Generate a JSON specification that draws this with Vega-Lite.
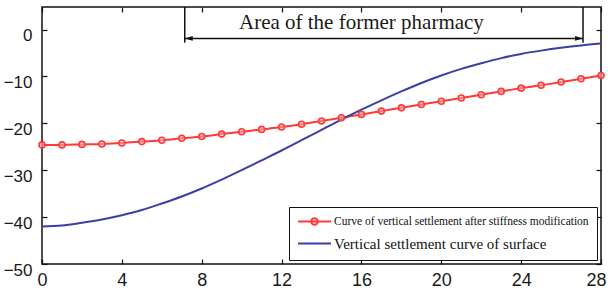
{
  "$schema": "https://vega.github.io/schema/vega-lite/v6.json",
  "width": 559,
  "height": 257,
  "autosize": {"type": "none"},
  "padding": {"left": 42, "top": 7, "right": 7, "bottom": 32},
  "background": "white",
  "config": {
    "view": {"stroke": "#111", "strokeWidth": 1.5},
    "axis": {"grid": false, "domain": false, "tickColor": "#111", "tickWidth": 1.2, "labelColor": "#1a1a1a", "labelFont": "Liberation Sans, Arial, sans-serif", "title": null}
  },
  "datasets": {
    "curves": [
      {"x": 0, "v": -24.6, "series": "Curve of vertical settlement after stiffness modification"},
      {"x": 1, "v": -24.6, "series": "Curve of vertical settlement after stiffness modification"},
      {"x": 2, "v": -24.5, "series": "Curve of vertical settlement after stiffness modification"},
      {"x": 3, "v": -24.4, "series": "Curve of vertical settlement after stiffness modification"},
      {"x": 4, "v": -24.2, "series": "Curve of vertical settlement after stiffness modification"},
      {"x": 5, "v": -23.9, "series": "Curve of vertical settlement after stiffness modification"},
      {"x": 6, "v": -23.6, "series": "Curve of vertical settlement after stiffness modification"},
      {"x": 7, "v": -23.2, "series": "Curve of vertical settlement after stiffness modification"},
      {"x": 8, "v": -22.8, "series": "Curve of vertical settlement after stiffness modification"},
      {"x": 9, "v": -22.3, "series": "Curve of vertical settlement after stiffness modification"},
      {"x": 10, "v": -21.8, "series": "Curve of vertical settlement after stiffness modification"},
      {"x": 11, "v": -21.3, "series": "Curve of vertical settlement after stiffness modification"},
      {"x": 12, "v": -20.8, "series": "Curve of vertical settlement after stiffness modification"},
      {"x": 13, "v": -20.2, "series": "Curve of vertical settlement after stiffness modification"},
      {"x": 14, "v": -19.5, "series": "Curve of vertical settlement after stiffness modification"},
      {"x": 15, "v": -18.8, "series": "Curve of vertical settlement after stiffness modification"},
      {"x": 16, "v": -18.1, "series": "Curve of vertical settlement after stiffness modification"},
      {"x": 17, "v": -17.4, "series": "Curve of vertical settlement after stiffness modification"},
      {"x": 18, "v": -16.7, "series": "Curve of vertical settlement after stiffness modification"},
      {"x": 19, "v": -16.0, "series": "Curve of vertical settlement after stiffness modification"},
      {"x": 20, "v": -15.3, "series": "Curve of vertical settlement after stiffness modification"},
      {"x": 21, "v": -14.6, "series": "Curve of vertical settlement after stiffness modification"},
      {"x": 22, "v": -13.9, "series": "Curve of vertical settlement after stiffness modification"},
      {"x": 23, "v": -13.2, "series": "Curve of vertical settlement after stiffness modification"},
      {"x": 24, "v": -12.5, "series": "Curve of vertical settlement after stiffness modification"},
      {"x": 25, "v": -11.9, "series": "Curve of vertical settlement after stiffness modification"},
      {"x": 26, "v": -11.2, "series": "Curve of vertical settlement after stiffness modification"},
      {"x": 27, "v": -10.5, "series": "Curve of vertical settlement after stiffness modification"},
      {"x": 28, "v": -9.8, "series": "Curve of vertical settlement after stiffness modification"},
      {"x": 0, "v": -42.0, "series": "Vertical settlement curve of surface"},
      {"x": 1, "v": -41.8, "series": "Vertical settlement curve of surface"},
      {"x": 2, "v": -41.2, "series": "Vertical settlement curve of surface"},
      {"x": 3, "v": -40.5, "series": "Vertical settlement curve of surface"},
      {"x": 4, "v": -39.6, "series": "Vertical settlement curve of surface"},
      {"x": 5, "v": -38.5, "series": "Vertical settlement curve of surface"},
      {"x": 6, "v": -37.1, "series": "Vertical settlement curve of surface"},
      {"x": 7, "v": -35.6, "series": "Vertical settlement curve of surface"},
      {"x": 8, "v": -33.9, "series": "Vertical settlement curve of surface"},
      {"x": 9, "v": -32.0, "series": "Vertical settlement curve of surface"},
      {"x": 10, "v": -30.0, "series": "Vertical settlement curve of surface"},
      {"x": 11, "v": -27.9, "series": "Vertical settlement curve of surface"},
      {"x": 12, "v": -25.8, "series": "Vertical settlement curve of surface"},
      {"x": 13, "v": -23.6, "series": "Vertical settlement curve of surface"},
      {"x": 14, "v": -21.4, "series": "Vertical settlement curve of surface"},
      {"x": 15, "v": -19.2, "series": "Vertical settlement curve of surface"},
      {"x": 16, "v": -17.1, "series": "Vertical settlement curve of surface"},
      {"x": 17, "v": -15.1, "series": "Vertical settlement curve of surface"},
      {"x": 18, "v": -13.2, "series": "Vertical settlement curve of surface"},
      {"x": 19, "v": -11.4, "series": "Vertical settlement curve of surface"},
      {"x": 20, "v": -9.8, "series": "Vertical settlement curve of surface"},
      {"x": 21, "v": -8.4, "series": "Vertical settlement curve of surface"},
      {"x": 22, "v": -7.2, "series": "Vertical settlement curve of surface"},
      {"x": 23, "v": -6.1, "series": "Vertical settlement curve of surface"},
      {"x": 24, "v": -5.2, "series": "Vertical settlement curve of surface"},
      {"x": 25, "v": -4.5, "series": "Vertical settlement curve of surface"},
      {"x": 26, "v": -3.9, "series": "Vertical settlement curve of surface"},
      {"x": 27, "v": -3.4, "series": "Vertical settlement curve of surface"},
      {"x": 28, "v": -3.0, "series": "Vertical settlement curve of surface"}
    ],
    "bounds": [
      {"x": 7.15, "y": 4.8, "y2": -2.8},
      {"x": 27.1, "y": 4.8, "y2": -2.8}
    ],
    "arrow": [
      {"x": 7.15, "x2": 27.1, "y": -1.9}
    ],
    "heads": [
      {"x": 7.15, "y": -1.9, "dir": "left"},
      {"x": 27.1, "y": -1.9, "dir": "right"}
    ],
    "label": [
      {"x": 16.0, "y": 1.3, "text": "Area of the former pharmacy"}
    ]
  },
  "layer": [
    {
      "data": {"name": "curves"},
      "mark": {"type": "line", "interpolate": "monotone", "strokeWidth": 2},
      "encoding": {
        "x": {"field": "x", "type": "quantitative", "scale": {"domain": [0, 28], "nice": false, "zero": false},
          "axis": {"orient": "bottom", "values": [0, 4, 8, 12, 16, 20, 24, 28], "tickSize": -5, "labelFontSize": 18, "labelPadding": 12, "labelFlush": true, "labelFlushOffset": 5}},
        "y": {"field": "v", "type": "quantitative", "scale": {"domain": [-50, 4.8], "nice": false, "zero": false},
          "axis": {"orient": "left", "values": [-50, -40, -30, -20, -10, 0], "tickSize": -5, "labelFontSize": 17, "labelPadding": 15, "labelOffset": 6, "labelFlush": false}},
        "color": {"field": "series", "type": "nominal",
          "scale": {"domain": ["Curve of vertical settlement after stiffness modification", "Vertical settlement curve of surface"], "range": ["#ff3838", "#3b3ea6"]},
          "legend": {
            "title": null, "orient": "bottom-right", "offset": 4, "strokeColor": "#111", "fillColor": "white",
            "padding": 8, "symbolType": "stroke", "symbolSize": 121, "symbolStrokeWidth": 2,
            "labelFont": "Liberation Serif", "labelFontSize": 15, "labelColor": "#111", "labelLimit": 400, "labelOffset": 24, "rowPadding": 7,
            "encode": {
              "labels": {"update": {"fontSize": [{"test": "datum.index === 0", "value": 11.5}, {"value": 15}]}},
              "symbols": {"update": {"shape": [{"test": "datum.index === 0", "value": "M-1,0H5M2.6,0A0.6,0.6 0 1,1 1.4,0A0.6,0.6 0 1,1 2.6,0"}, {"value": "M-1,0H5"}]}}
            }
          }
        }
      }
    },
    {
      "data": {"name": "curves"},
      "transform": [{"filter": "datum.series === 'Curve of vertical settlement after stiffness modification'"}],
      "mark": {"type": "point", "filled": false, "size": 36, "strokeWidth": 1.6, "color": "#ff3838", "fill": "#ffb0b0", "fillOpacity": 0.6},
      "encoding": {
        "x": {"field": "x", "type": "quantitative", "axis": null},
        "y": {"field": "v", "type": "quantitative", "axis": null}
      }
    },
    {
      "data": {"name": "bounds"},
      "mark": {"type": "rule", "color": "#111", "strokeWidth": 1.5},
      "encoding": {
        "x": {"field": "x", "type": "quantitative", "axis": null},
        "y": {"field": "y", "type": "quantitative", "axis": null},
        "y2": {"field": "y2"}
      }
    },
    {
      "data": {"name": "arrow"},
      "mark": {"type": "rule", "color": "#111", "strokeWidth": 1.5},
      "encoding": {
        "x": {"field": "x", "type": "quantitative", "axis": null},
        "x2": {"field": "x2"},
        "y": {"field": "y", "type": "quantitative", "axis": null}
      }
    },
    {
      "data": {"name": "heads"},
      "mark": {"type": "point", "filled": true, "color": "#111", "size": 256, "opacity": 1},
      "encoding": {
        "x": {"field": "x", "type": "quantitative", "axis": null},
        "y": {"field": "y", "type": "quantitative", "axis": null},
        "shape": {"field": "dir", "type": "nominal", "legend": null,
          "scale": {"domain": ["left", "right"], "range": ["M0,0L1,-0.3L1,0.3Z", "M0,0L-1,-0.3L-1,0.3Z"]}}
      }
    },
    {
      "data": {"name": "label"},
      "mark": {"type": "text", "font": "Liberation Serif", "fontSize": 21, "color": "#1a1a1a", "baseline": "middle", "align": "center"},
      "encoding": {
        "x": {"field": "x", "type": "quantitative",
          "axis": {"orient": "top", "values": [0, 4, 8, 12, 16, 20, 24, 28], "tickSize": -5, "labels": false}},
        "y": {"field": "y", "type": "quantitative",
          "axis": {"orient": "right", "values": [-50, -40, -30, -20, -10, 0], "tickSize": -5, "labels": false}},
        "text": {"field": "text"}
      }
    }
  ],
  "resolve": {"axis": {"x": "independent", "y": "independent"}}
}
